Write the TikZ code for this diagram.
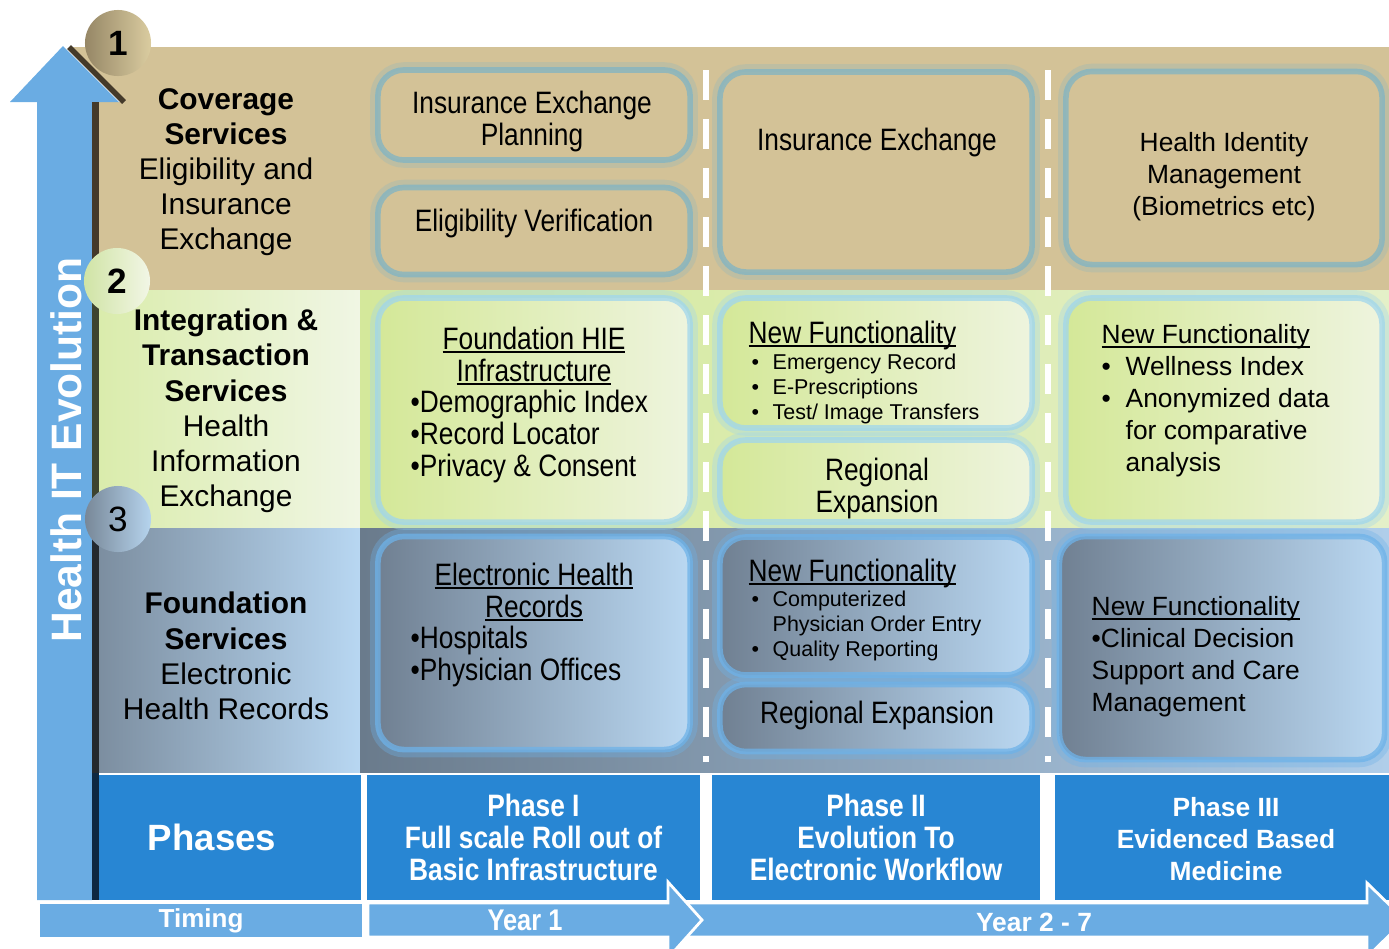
\documentclass[tikz,border=0pt]{standalone}
\usepackage{fontspec}
\setmainfont{Liberation Sans}
\newfontfamily\narrowfont[FakeStretch=0.85]{Liberation Sans}

\definecolor{tanbg}{RGB}{211,194,151}
\definecolor{tanedge}{RGB}{128,180,196}
\definecolor{grnboxl}{RGB}{212,232,152}
\definecolor{grnboxr}{RGB}{238,244,222}
\definecolor{grnedge}{RGB}{160,214,236}
\definecolor{bluboxl}{RGB}{112,128,146}
\definecolor{bluboxr}{RGB}{186,216,242}
\definecolor{bluedge}{RGB}{110,178,232}
\definecolor{grnpanl}{RGB}{218,236,172}
\definecolor{grnpanr}{RGB}{240,246,228}
\definecolor{grngridl}{RGB}{212,232,155}
\definecolor{grngridr}{RGB}{228,240,200}
\definecolor{blupanl}{RGB}{124,142,160}
\definecolor{blupanr}{RGB}{184,215,242}
\definecolor{blugridl}{RGB}{106,123,140}
\definecolor{blugridr}{RGB}{176,206,234}
\definecolor{phaseblue}{RGB}{40,134,211}
\definecolor{arrowblue}{RGB}{106,172,227}
\definecolor{edgebrown}{RGB}{68,58,42}
\definecolor{edgeolive}{RGB}{62,68,48}
\definecolor{edgeslate}{RGB}{36,41,46}
\definecolor{navy}{RGB}{14,40,66}
\definecolor{cirtanl}{RGB}{150,135,102}
\definecolor{cirtanr}{RGB}{218,204,160}
\definecolor{cirgrnl}{RGB}{208,228,165}
\definecolor{cirgrnr}{RGB}{242,246,230}
\definecolor{cirblul}{RGB}{120,136,152}
\definecolor{cirblur}{RGB}{182,212,238}

\newcommand{\blt}{\makebox[0.21cm][l]{•}}
\newcommand{\bltw}{\makebox[0.24cm][l]{•}}
\newcommand{\uln}[1]{\setbox0=\hbox{#1}\rlap{\rule[-1.1pt]{\wd0}{0.55pt}}\box0}

\begin{document}
\begin{tikzpicture}[x=0.01cm, y=-0.01cm,
    box/.style={rounded corners=0.26cm, inner sep=0pt, line width=1.6pt, draw opacity=0.75},
    tanbox/.style={box, fill=tanbg, draw=tanedge,
        preaction={draw=tanedge, line width=4.4pt, opacity=0.25}},
    grnbox/.style={box, left color=grnboxl, right color=grnboxr, draw=grnedge,
        preaction={draw=grnedge, line width=4.4pt, opacity=0.35}},
    blubox/.style={box, left color=bluboxl, right color=bluboxr, draw=bluedge,
        preaction={draw=bluedge, line width=4.4pt, opacity=0.35}},
    nartxt/.style={inner sep=0pt, align=center, font=\narrowfont\fontsize{8.8}{9.1}\selectfont},
    nartxtl/.style={nartxt, align=left},
    boxtxt/.style={inner sep=0pt, align=center, font=\fontsize{7.5}{9.1}\selectfont},
    boxtxtl/.style={boxtxt, align=left},
    smalltxt/.style={inner sep=0pt, align=left, font=\fontsize{6.1}{7.1}\selectfont},
    lbltxt/.style={inner sep=0pt, align=center, font=\fontsize{8.5}{10}\selectfont},
    phasebox/.style={fill=phaseblue, inner sep=0pt, text=white, align=center},
    numcirc/.style={circle, minimum size=0.66cm, inner sep=0pt, font=\fontsize{10}{12}\selectfont},
    sepline/.style={white, line width=1.7pt, dash pattern=on 0.3cm off 0.19cm},
]

    \useasboundingbox (0,0) rectangle (1389,948);
    \clip (0,0) rectangle (1389,948);

    % Row backgrounds
    \fill[tanbg] (70,47) -- (1389,47) -- (1389,290) -- (99,290) -- (99,102) -- (125,102) -- cycle;
    \shade[left color=grnpanl, right color=grnpanr] (99,290) rectangle (360,528);
    \shade[left color=grngridl, right color=grngridr] (360,290) rectangle (1389,528);
    \shade[left color=blupanl, right color=blupanr] (99,528) rectangle (360,772);
    \shade[left color=blugridl, right color=blugridr] (360,528) rectangle (1389,772);

    % Coverage row
    \node[tanbox, minimum width=3.12cm, minimum height=0.90cm] (iep) at (534,115) {};
    \node[nartxt] (ieptx) at (532,121) {Insurance Exchange\\Planning};
    \node[tanbox, minimum width=3.12cm, minimum height=0.87cm] (elig) at (534,231) {};
    \node[nartxt] (eligtx) at (534,223) {Eligibility Verification};
    \node[tanbox, minimum width=3.12cm, minimum height=2.00cm] (insx) at (876,172) {};
    \node[nartxt] (insxtx) at (877,142) {Insurance Exchange};
    \node[tanbox, minimum width=3.16cm, minimum height=1.93cm] (hid) at (1224,168) {};
    \node[boxtxt] (hidtx) at (1224,177) {Health Identity\\Management\\(Biometrics etc)};

    % Integration row
    \node[grnbox, minimum width=3.12cm, minimum height=2.24cm] (hie) at (534,410) {};
    \node[nartxt] (hiehd) at (534,356) {\uln{Foundation HIE}\\\uln{Infrastructure}};
    \node[nartxtl, anchor=west] (hieli) at (410,436) {•Demographic Index\\•Record Locator\\•Privacy \& Consent};
    \node[grnbox, minimum width=3.12cm, minimum height=1.30cm] (nf2a) at (876,363) {};
    \node[nartxtl, anchor=west] (nf2ahd) at (748,335) {\uln{New Functionality}};
    \node[smalltxt, anchor=west] (nf2ali) at (751,389) {\blt Emergency Record\\\blt E-Prescriptions\\\blt Test/ Image Transfers};
    \node[grnbox, minimum width=3.12cm, minimum height=0.82cm] (reg2a) at (876,481) {};
    \node[nartxt] (reg2atx) at (877,488) {Regional\\Expansion};
    \node[grnbox, minimum width=3.16cm, minimum height=2.24cm] (nf3a) at (1224,410) {};
    \node[boxtxtl, anchor=west] (nf3ahd) at (1101,337) {\uln{New Functionality}};
    \node[boxtxtl, anchor=west] (nf3ali) at (1101,417) {\bltw Wellness Index\\\bltw Anonymized data\\\hspace*{0.24cm}for comparative\\\hspace*{0.24cm}analysis};

    % Foundation row
    \node[blubox, minimum width=3.12cm, minimum height=2.13cm] (ehr) at (534,643) {};
    \node[nartxt] (ehrhd) at (534,592) {\uln{Electronic Health}\\\uln{Records}};
    \node[nartxtl, anchor=west] (ehrli) at (410,656) {•Hospitals\\•Physician Offices};
    \node[blubox, minimum width=3.12cm, minimum height=1.38cm] (nf2b) at (876,606) {};
    \node[nartxtl, anchor=west] (nf2bhd) at (748,573) {\uln{New Functionality}};
    \node[smalltxt, anchor=west] (nf2bli) at (751,626) {\blt Computerized\\\hspace*{0.21cm}Physician Order Entry\\\blt Quality Reporting};
    \node[blubox, minimum width=3.12cm, minimum height=0.67cm] (reg2b) at (876,718) {};
    \node[nartxt] (reg2btx) at (877,715) {Regional Expansion};
    \node[blubox, minimum width=3.25cm, minimum height=2.23cm] (nf3b) at (1222,648) {};
    \node[boxtxtl, anchor=west] (nf3btx) at (1091,657) {\uln{New Functionality}\\•Clinical Decision\\Support and Care\\Management};

    % Phase separators
    \coordinate (sepatop) at (706,70);
    \coordinate (sepabot) at (706,762);
    \coordinate (sepbtop) at (1048,70);
    \coordinate (sepbbot) at (1048,762);
    \draw[sepline] (sepatop) -- (sepabot);
    \draw[sepline] (sepbtop) -- (sepbbot);

    % Phases row
    \node[phasebox, minimum width=2.62cm, minimum height=1.25cm] (phlbl) at (230,837.5) {};
    \node[text=white, inner sep=0pt, font=\bfseries\fontsize{10.4}{12}\selectfont] (phtx) at (212,837) {Phases};
    \node[phasebox, minimum width=3.33cm, minimum height=1.25cm,
          font=\narrowfont\bfseries\fontsize{8.8}{9.1}\selectfont] (ph1) at (533.5,837.5)
          {Phase I\\Full scale Roll out of\\Basic Infrastructure};
    \node[phasebox, minimum width=3.28cm, minimum height=1.25cm,
          font=\narrowfont\bfseries\fontsize{8.8}{9.1}\selectfont] (ph2) at (876,837.5)
          {Phase II\\Evolution To\\Electronic Workflow};
    \node[phasebox, minimum width=3.34cm, minimum height=1.25cm,
          font=\bfseries\fontsize{7.5}{9.1}\selectfont] (ph3) at (1222,837.5) {};
    \node[text=white, inner sep=0pt, align=center,
          font=\bfseries\fontsize{7.5}{9.1}\selectfont] (ph3tx) at (1226,839)
          {Phase III\\Evidenced Based\\Medicine};

    % Timing row
    \node[fill=arrowblue, text=white, minimum width=3.22cm, minimum height=0.33cm, inner sep=0pt,
          font=\bfseries\fontsize{7.4}{9}\selectfont] (timing) at (201,920.5) {Timing};
    \fill[arrowblue, draw=white, line width=0.8pt] (680,903) -- (1367,903) -- (1367,883)
        -- (1405,920) -- (1367,957) -- (1367,937) -- (680,937) -- cycle;
    \fill[arrowblue, draw=white, line width=0.8pt] (368,903) -- (668,903) -- (668,882)
        -- (702,920) -- (668,958) -- (668,937) -- (368,937) -- cycle;
    \node[text=white, inner sep=0pt, font=\narrowfont\bfseries\fontsize{8.5}{9}\selectfont] (yr1) at (525,920) {Year 1};
    \node[text=white, inner sep=0pt, font=\bfseries\fontsize{7.5}{9}\selectfont] (yr27) at (1034,922) {Year 2 - 7};

    % Evolution arrow
    \fill[arrowblue] (37,900) -- (37,102) -- (10,102) -- (63,46) -- (119,102) -- (92,102) -- (92,900) -- cycle;
    \draw[edgebrown, line width=1.6pt] (69,47) -- (124,102);
    \fill[edgebrown] (92,102) rectangle (99,290);
    \fill[edgeolive] (92,290) rectangle (99,528);
    \fill[edgeslate] (92,528) rectangle (99,773);
    \fill[navy] (92,773) rectangle (99,900);
    \node[rotate=90, text=white, inner sep=0pt, font=\bfseries\fontsize{12.1}{14}\selectfont] (evo) at (66,450) {Health IT Evolution};

    % Row labels
    \node[lbltxt] (cov) at (226,172) {\textbf{Coverage}\\\textbf{Services}\\Eligibility and\\Insurance\\Exchange};
    \node[lbltxt] (integ) at (226,411) {\textbf{Integration \&}\\\textbf{Transaction}\\\textbf{Services}\\Health\\Information\\Exchange};
    \node[lbltxt] (found) at (226,656) {\textbf{Foundation}\\\textbf{Services}\\Electronic\\Health Records};

    % Numbered circles
    \node[numcirc, left color=cirtanl, right color=cirtanr] (num1) at (118,43) {\bfseries 1};
    \node[numcirc, left color=cirgrnl, right color=cirgrnr] (num2) at (117,281) {\bfseries 2};
    \node[numcirc, left color=cirblul, right color=cirblur] (num3) at (118,519) {3};

\end{tikzpicture}
\end{document}
